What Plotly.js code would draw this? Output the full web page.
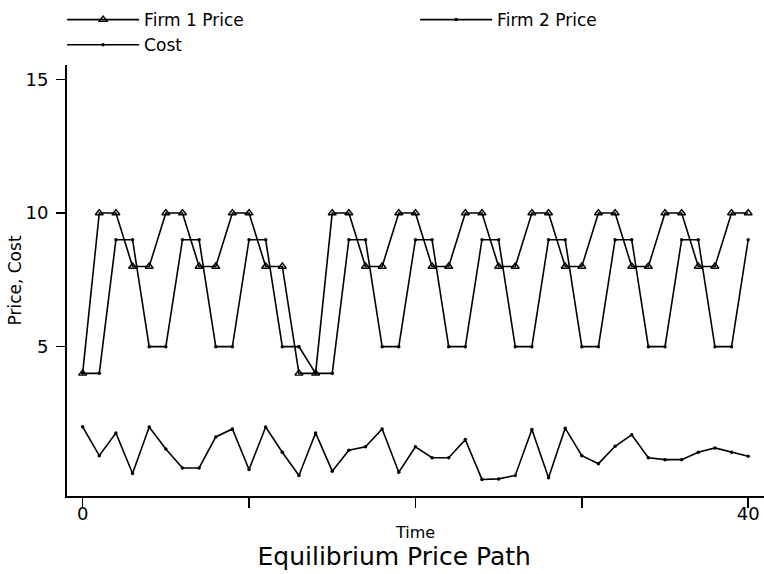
<!DOCTYPE html>
<html>
<head>
<meta charset="utf-8">
<script src="https://cdn.plot.ly/plotly-3.0.1.min.js"></script>
<style>html,body{margin:0;padding:0;background:#fff;}</style>
</head>
<body>
<div id="chart" style="width:764px;height:574px;"></div>
<script>
const time = [0,1,2,3,4,5,6,7,8,9,10,11,12,13,14,15,16,17,18,19,20,21,22,23,24,25,26,27,28,29,30,31,32,33,34,35,36,37,38,39,40];
const firm1Price = [4,10,10,8,8,10,10,8,8,10,10,8,8,4,4,10,10,8,8,10,10,8,8,10,10,8,8,10,10,8,8,10,10,8,8,10,10,8,8,10,10];
const firm2Price = [4,4,9,9,5,5,9,9,5,5,9,9,5,5,4,4,9,9,5,5,9,9,5,5,9,9,5,5,9,9,5,5,9,9,5,5,9,9,5,5,9];
const cost = [2.0,0.92,1.77,0.25,1.99,1.17,0.46,0.46,1.62,1.92,0.40,1.99,1.05,0.18,
              1.77,0.34,1.12,1.25,1.92,0.30,1.25,0.84,0.84,1.52,0.03,0.05,0.18,1.9,
              0.09,1.95,0.92,0.62,1.27,1.70,0.84,0.77,0.77,1.05,1.21,1.05,0.90];
const xTickVals = [0,10,20,30,40];
const xTickText = ["0","","","","40"];
const yTickVals = [5,10,15];
const yTickText = ["5","10","15"];

const FONT = "DejaVu Sans, Arial, sans-serif";

const traces = [
  {x: time, y: firm1Price, name: "Firm 1 Price", type: "scatter", mode: "lines+markers",
   line: {color: "#000", width: 1.6},
   marker: {symbol: "triangle-up-open", size: 7, color: "#000", line: {color: "#000", width: 1.4}}},
  {x: time, y: firm2Price, name: "Firm 2 Price", type: "scatter", mode: "lines+markers",
   line: {color: "#000", width: 1.6},
   marker: {symbol: "circle", size: 3.5, color: "#000"}},
  {x: time, y: cost, name: "Cost", type: "scatter", mode: "lines+markers",
   line: {color: "#000", width: 1.6},
   marker: {symbol: "circle", size: 3.5, color: "#000"}}
];

const layout = {
  width: 764, height: 574,
  margin: {l: 67, r: 0, t: 65, b: 78, autoexpand: false},
  paper_bgcolor: "#fff", plot_bgcolor: "#fff",
  font: {family: FONT, color: "#000", size: 16},
  showlegend: true,
  legend: {
    orientation: "h", xref: "paper", yref: "paper",
    x: -0.007, y: 1.146, xanchor: "left", yanchor: "top",
    entrywidth: 266, entrywidthmode: "pixels",
    itemwidth: 72,
    font: {family: FONT, size: 17, color: "#000"},
    bgcolor: "rgba(0,0,0,0)"
  },
  title: {
    text: "Equilibrium Price Path",
    font: {family: FONT, size: 25, color: "#000"},
    xref: "container", yref: "container",
    x: 0.516, xanchor: "center", y: 0.031, yanchor: "middle"
  },
  xaxis: {
    range: [-0.94, 40.95],
    showgrid: false, zeroline: false,
    showline: true, linecolor: "#000", linewidth: 2,
    ticks: "outside", ticklen: 10, tickwidth: 1.5, tickcolor: "#000",
    tickmode: "array", tickvals: xTickVals, ticktext: xTickText,
    tickfont: {family: FONT, size: 18, color: "#000"},
    ticklabelstandoff: -10,
    title: {text: "Time", font: {family: FONT, size: 16, color: "#000"}, standoff: 4}
  },
  yaxis: {
    range: [-0.59, 15.54],
    showgrid: false, zeroline: false,
    showline: true, linecolor: "#000", linewidth: 2,
    ticks: "outside", ticklen: 9, tickwidth: 1.5, tickcolor: "#000",
    tickmode: "array", tickvals: yTickVals, ticktext: yTickText,
    tickfont: {family: FONT, size: 18, color: "#000"},
    ticklabelstandoff: 4,
    title: {text: "Price, Cost", font: {family: FONT, size: 17, color: "#000"}, standoff: 0}
  }
};

Plotly.newPlot("chart", traces, layout, {displayModeBar: false, staticPlot: true});
</script>
</body>
</html>
